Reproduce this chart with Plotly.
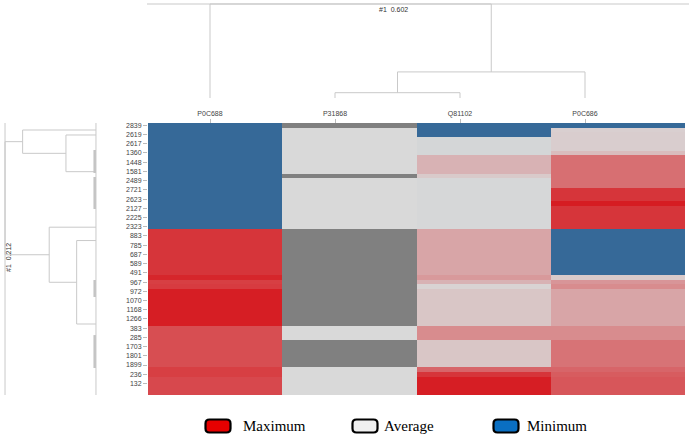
import plotly.graph_objects as go

W, H = 689, 437

# ---------------- data ----------------
columns = ["P0C688", "P31868", "Q81102", "P0C686"]
row_labels = ["2839", "2619", "2617", "1360", "1448", "1581", "2489", "2721", "2623",
              "2127", "2225", "2323", "883", "785", "687", "589", "491", "967", "972",
              "1070", "1168", "1266", "383", "285", "1703", "1801", "1899", "236", "132"]

# 59 rows (labels shown every second row); -1 = minimum, 0 = average, 1 = maximum, None = missing
P0C688 = [-1, -1, -1, -1, -1, -1, -1, -1, -1, -1, -1, -1, -1, -1, -1, -1, -1, -1, -1, -1,
          -1, -1, -1, 0.85, 0.85, 0.85, 0.85, 0.85, 0.85, 0.85, 0.85, 0.85, 0.85, 0.93, 0.8,
          0.82, 0.97, 0.97, 0.97, 0.97, 0.97, 0.97, 0.97, 0.97, 0.72, 0.72, 0.72, 0.72, 0.72,
          0.72, 0.72, 0.72, 0.72, 0.8, 0.8, 0.75, 0.75, 0.75, 0.75]
P31868 = [None, 0, 0, 0, 0, 0, 0, 0, 0, 0, 0, None, 0, 0, 0, 0, 0, 0, 0, 0,
          0, 0, 0, None, None, None, None, None, None, None, None, None, None, None, None,
          None, None, None, None, None, None, None, None, None, 0, 0, 0, None, None,
          None, None, None, None, 0, 0, 0, 0, 0, 0]
Q81102 = [-1, -1, -1, -0.03, -0.03, -0.03, -0.03, 0.2, 0.2, 0.2, 0.2, 0.08, -0.02, -0.02, -0.02,
          -0.02, -0.02, -0.02, -0.02, -0.02, -0.02, -0.02, -0.02, 0.27, 0.27, 0.27, 0.27, 0.27,
          0.27, 0.27, 0.27, 0.27, 0.27, 0.33, 0.2, 0.03, 0.1, 0.1, 0.1, 0.1, 0.1, 0.1, 0.1, 0.1,
          0.4, 0.4, 0.4, 0.1, 0.1, 0.1, 0.1, 0.1, 0.1, 0.6, 0.85, 0.97, 0.97, 0.97, 0.97]
P0C686 = [-1, 0.05, 0.06, 0.06, 0.06, 0.06, 0.15, 0.55, 0.55, 0.55, 0.55, 0.55, 0.55, 0.55,
          0.85, 0.85, 0.85, 0.98, 0.85, 0.85, 0.85, 0.85, 0.85, -1, -1, -1, -1, -1, -1, -1, -1,
          -1, -1, 0.08, 0.35, 0.4, 0.27, 0.27, 0.27, 0.27, 0.27, 0.27, 0.27, 0.27, 0.4, 0.4,
          0.4, 0.53, 0.53, 0.53, 0.53, 0.53, 0.53, 0.6, 0.65, 0.68, 0.68, 0.68, 0.68]

# column dendrogram: leaves 0..3, merges (left, right, height); new nodes get ids 4, 5, 6
col_merges = [(1, 2, 0.034), (4, 3, 0.167), (0, 5, 0.602)]
col_root_label = "#1  0.602"

# row dendrogram: leaf clusters (row positions), merges (left, right, distance)
row_leaf_pos = [1.02, 2.1, 10.06, 22.1, 25.0, 43.1]
row_merges = [(1, 2, 0.07), (0, 6, 0.171), (4, 5, 0.045), (3, 8, 0.109), (7, 9, 0.212)]
row_root_label = "#1  0.212"
# zero-distance sub-cluster spans (row positions)
row_zero_spans = [(5.36, 10.35), (11.21, 18.15), (33.56, 37.24), (45.5, 52.65)]

legend_labels = ["Maximum", "Average", "Minimum"]
legend_colors = ["#E60000", "#F0F0F0", "#0A6FC2"]

# ---------------- figure ----------------
series = [P0C688, P31868, Q81102, P0C686]
n_rows = len(P0C688)
rows = list(range(n_rows))
z = [[s[r] for s in series] for r in rows]
z_missing = [[1 if s[r] is None else None for s in series] for r in rows]

fig = go.Figure()
fig.add_trace(go.Heatmap(
    z=z, x=columns, y=rows, zmin=-1, zmax=1,
    colorscale=[[0, "rgb(54,105,152)"], [0.5, "rgb(217,217,217)"], [1, "rgb(214,24,30)"]],
    showscale=False, hoverongaps=False))
fig.add_trace(go.Heatmap(
    z=z_missing, x=columns, y=rows, zmin=0, zmax=1,
    colorscale=[[0, "rgb(128,128,128)"], [1, "rgb(128,128,128)"]],
    showscale=False, hoverongaps=False))

LINE = dict(color="#c9c9c9", width=1)

# column dendrogram
nodes = {i: (float(i), 0.0) for i in range(len(columns))}
nid = len(columns)
for a, b, h in col_merges:
    xa, ha = nodes[a]
    xb, hb = nodes[b]
    fig.add_trace(go.Scatter(x=[xa, xa, xb, xb], y=[ha, h, h, hb], mode="lines",
                             line=LINE, xaxis="x2", yaxis="y2", hoverinfo="skip"))
    nodes[nid] = ((xa + xb) / 2, h)
    nid += 1
root_h = col_merges[-1][2]

# row dendrogram
rnodes = {i: (p, 0.0) for i, p in enumerate(row_leaf_pos)}
rid = len(row_leaf_pos)
for a, b, d in row_merges:
    ya, da = rnodes[a]
    yb, db = rnodes[b]
    fig.add_trace(go.Scatter(x=[da, d, d, db], y=[ya, ya, yb, yb], mode="lines",
                             line=LINE, xaxis="x3", yaxis="y", hoverinfo="skip"))
    rnodes[rid] = ((ya + yb) / 2, d)
    rid += 1
row_root = row_merges[-1][2]
# leaf baseline and root bar across the full height
for dval in (0.0, row_root):
    fig.add_trace(go.Scatter(x=[dval, dval], y=[-0.5, n_rows - 0.5], mode="lines",
                             line=LINE, xaxis="x3", yaxis="y", hoverinfo="skip"))
for y0, y1 in row_zero_spans:
    fig.add_trace(go.Scatter(x=[0.003, 0.003], y=[y0, y1], mode="lines",
                             line=dict(color="#c4c4c4", width=2.5),
                             xaxis="x3", yaxis="y", hoverinfo="skip"))

shapes = [dict(type="line", xref="x2 domain", yref="y2", x0=0, x1=1, y0=root_h, y1=root_h,
               line=LINE, layer="below")]

# legend
def rrect(cx, cy, w, h, r):
    x0, x1, y0, y1 = cx - w / 2, cx + w / 2, cy - h / 2, cy + h / 2
    def P(x, y):
        return f"{x / W:.5f},{1 - y / H:.5f}"
    return (f"M {P(x0 + r, y0)} L {P(x1 - r, y0)} Q {P(x1, y0)} {P(x1, y0 + r)} "
            f"L {P(x1, y1 - r)} Q {P(x1, y1)} {P(x1 - r, y1)} L {P(x0 + r, y1)} "
            f"Q {P(x0, y1)} {P(x0, y1 - r)} L {P(x0, y0 + r)} Q {P(x0, y0)} {P(x0 + r, y0)} Z")

legend_box_x = [218, 365, 506]
legend_text_x = [241, 382, 525]
annotations = []
for lab, col, bx, tx in zip(legend_labels, legend_colors, legend_box_x, legend_text_x):
    shapes.append(dict(type="path", xref="paper", yref="paper", path=rrect(bx, 426, 25, 13, 4),
                       fillcolor=col, line=dict(color="black", width=2.2)))
    annotations.append(dict(x=tx / W, y=1 - 426 / H, xref="paper", yref="paper", text=lab,
                            showarrow=False, xanchor="left", yanchor="middle",
                            font=dict(family="Liberation Serif", size=15, color="black")))

annotations.append(dict(x=393 / W, y=1 - 9 / H, xref="paper", yref="paper", text=col_root_label,
                        showarrow=False, xanchor="center", yanchor="middle",
                        font=dict(family="Liberation Sans", size=7, color="#333")))
annotations.append(dict(x=8 / W, y=1 - 258 / H, xref="paper", yref="paper", text=row_root_label,
                        showarrow=False, textangle=-90, xanchor="center", yanchor="middle",
                        font=dict(family="Liberation Sans", size=7, color="#333")))

tick_font = dict(family="Liberation Sans", size=7, color="#444")
fig.update_layout(
    width=W, height=H, margin=dict(l=0, r=0, t=0, b=0),
    paper_bgcolor="white", plot_bgcolor="white", showlegend=False,
    shapes=shapes, annotations=annotations,
    xaxis=dict(domain=[148 / W, 685 / W], range=[-0.5, 3.5], visible=False),
    yaxis=dict(domain=[1 - 395 / H, 1 - 123 / H], range=[n_rows - 0.5, -0.5],
               tickvals=[2 * i for i in range(len(row_labels))], ticktext=row_labels,
               ticks="outside", ticklen=4, tickcolor="#bbbbbb", tickfont=tick_font,
               showgrid=False, zeroline=False, showline=False),
    xaxis2=dict(domain=[147 / W, 689 / W], range=[-0.504, 3.832], anchor="free",
                position=1 - 123 / H, side="top",
                tickvals=list(range(len(columns))), ticktext=columns,
                ticks="outside", ticklen=4, tickcolor="#bbbbbb", tickfont=tick_font,
                showgrid=False, zeroline=False, showline=False),
    yaxis2=dict(domain=[1 - 100 / H, 1 - 2 / H], range=[-0.0128, 0.6148], anchor="x2",
                visible=False),
    xaxis3=dict(domain=[3 / W, 98 / W], range=[0.2167, -0.0047], anchor="y", visible=False),
)

fig.write_html("out.html", config={"displayModeBar": False},
               post_script="document.body.style.margin='0';document.body.style.overflow='hidden';")
